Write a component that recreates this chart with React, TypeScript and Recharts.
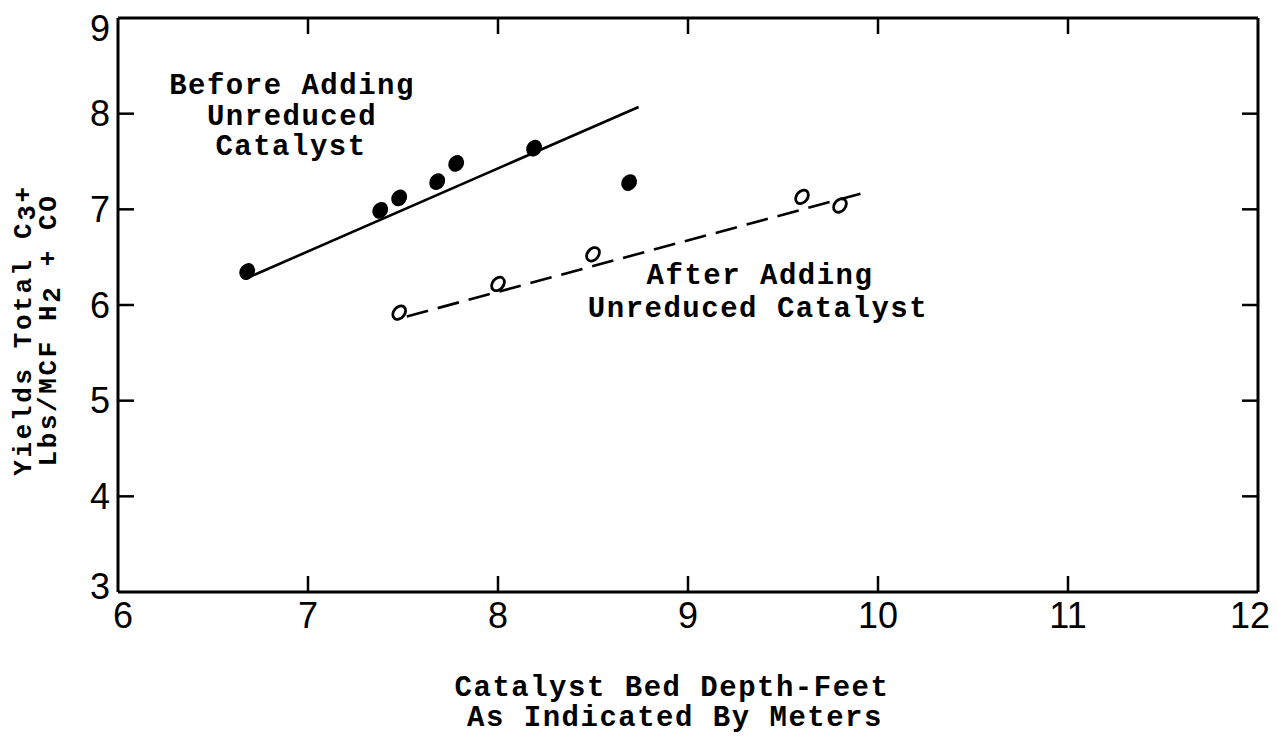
import React from "react";
import { ComposedChart, Scatter, XAxis, YAxis } from "recharts";

const xTicks = [6, 7, 8, 9, 10, 11, 12];
const yTicks = [3, 4, 5, 6, 7, 8, 9];

const beforeX = [6.68, 7.38, 7.48, 7.68, 7.78, 8.19, 8.69];
const beforeY = [6.35, 6.99, 7.12, 7.29, 7.48, 7.64, 7.28];
const afterX = [7.48, 8.0, 8.5, 9.6, 9.8];
const afterY = [5.92, 6.22, 6.53, 7.13, 7.04];
const fitBeforeX = [6.7, 8.74];
const fitBeforeY = [6.3, 8.07];
const fitAfterX = [7.52, 9.92];
const fitAfterY = [5.88, 7.17];

const zip = (xs: number[], ys: number[]) => xs.map((x, i) => ({ x, y: ys[i] }));
const beforeData = zip(beforeX, beforeY);
const afterData = zip(afterX, afterY);
const fitBefore = zip(fitBeforeX, fitBeforeY);
const fitAfter = zip(fitAfterX, fitAfterY);

const W = 1270;
const H = 728;
const M = { top: 9, left: 109, right: 19, bottom: 143 };
const TYPE = "'Liberation Mono', 'DejaVu Sans Mono', monospace";
const NUM = "'Liberation Sans', Arial, sans-serif";
const TL = 16;

const BottomTick = (p: any) => {
  const v = p.payload.value;
  const dx = v === 6 ? 5 : v === 12 ? -8 : 0;
  return (
    <g>
      {v !== 6 && v !== 12 && (
        <line x1={p.x} x2={p.x} y1={p.y} y2={p.y - TL} stroke="#000" strokeWidth={2.5} />
      )}
      <text x={p.x + dx} y={p.y + 23} textAnchor="middle" dominantBaseline="central" fontFamily={NUM} fontSize={36} fill="#000">
        {v}
      </text>
    </g>
  );
};

const TopTick = (p: any) => {
  const v = p.payload.value;
  if (v === 6 || v === 12) return <g />;
  return <line x1={p.x} x2={p.x} y1={p.y} y2={p.y + TL} stroke="#000" strokeWidth={2.5} />;
};

const LeftTick = (p: any) => {
  const v = p.payload.value;
  const dy = v === 3 ? -6 : v === 9 ? 10 : 0;
  return (
    <g>
      {v !== 3 && v !== 9 && (
        <line x1={p.x} x2={p.x + TL} y1={p.y} y2={p.y} stroke="#000" strokeWidth={2.5} />
      )}
      <text x={p.x - 8} y={p.y + dy} textAnchor="end" dominantBaseline="central" fontFamily={NUM} fontSize={36} fill="#000">
        {v}
      </text>
    </g>
  );
};

const RightTick = (p: any) => {
  const v = p.payload.value;
  if (v === 3 || v === 9) return <g />;
  return <line x1={p.x} x2={p.x - TL} y1={p.y} y2={p.y} stroke="#000" strokeWidth={2.5} />;
};

const FilledDot = (p: any) => (
  <ellipse cx={p.cx} cy={p.cy} rx={7.5} ry={8.8} fill="#000" transform={`rotate(35 ${p.cx} ${p.cy})`} />
);
const OpenDot = (p: any) => (
  <ellipse cx={p.cx} cy={p.cy} rx={5.5} ry={7.5} fill="#fff" stroke="#000" strokeWidth={2.8} transform={`rotate(40 ${p.cx} ${p.cy})`} />
);
const NoDot = () => <g />;

export default function App() {
  const axisLine = { stroke: "#000", strokeWidth: 3 };
  return (
    <div style={{ position: "relative", width: W, height: H, background: "#fff" }}>
      <ComposedChart width={W} height={H} margin={M}>
        <XAxis xAxisId="b" dataKey="x" type="number" domain={[6, 12]} ticks={xTicks} orientation="bottom" height={1} tickSize={0} tickMargin={0} axisLine={axisLine} tickLine={false} tick={BottomTick} interval={0} allowDataOverflow />
        <XAxis xAxisId="t" dataKey="x" type="number" domain={[6, 12]} ticks={xTicks} orientation="top" height={1} tickSize={0} tickMargin={0} axisLine={axisLine} tickLine={false} tick={TopTick} interval={0} allowDataOverflow />
        <YAxis yAxisId="l" dataKey="y" type="number" domain={[3, 9]} ticks={yTicks} orientation="left" width={1} tickSize={0} tickMargin={0} axisLine={axisLine} tickLine={false} tick={LeftTick} interval={0} allowDataOverflow />
        <YAxis yAxisId="r" dataKey="y" type="number" domain={[3, 9]} ticks={yTicks} orientation="right" width={1} tickSize={0} tickMargin={0} axisLine={axisLine} tickLine={false} tick={RightTick} interval={0} allowDataOverflow />
        <Scatter xAxisId="b" yAxisId="l" data={fitBefore} line={{ stroke: "#000", strokeWidth: 2.6 }} shape={NoDot} isAnimationActive={false} />
        <Scatter xAxisId="b" yAxisId="l" data={fitAfter} line={{ stroke: "#000", strokeWidth: 2.6, strokeDasharray: "22 10" }} shape={NoDot} isAnimationActive={false} />
        <Scatter xAxisId="b" yAxisId="l" data={beforeData} shape={FilledDot} isAnimationActive={false} />
        <Scatter xAxisId="b" yAxisId="l" data={afterData} shape={OpenDot} isAnimationActive={false} />
      </ComposedChart>
      <svg width={W} height={H} style={{ position: "absolute", left: 0, top: 0, pointerEvents: "none" }}>
        <g fontFamily={TYPE} fontWeight="bold" fontSize={29} fill="#000" textAnchor="middle" dominantBaseline="central" letterSpacing={1.5}>
          <text x={284} y={78}>Before Adding</text>
          <text x={284} y={109}>Unreduced</text>
          <text x={283} y={139}>Catalyst</text>
          <text x={752} y={268}>After Adding</text>
          <text x={750} y={301}>Unreduced Catalyst</text>
          <text x={664} y={680}>Catalyst Bed Depth-Feet</text>
          <text x={667} y={710}>As Indicated By Meters</text>
        </g>
        <g fontFamily={TYPE} fontWeight="bold" fontSize={26} fill="#000" textAnchor="middle" dominantBaseline="central" letterSpacing={2.6}>
          <text transform="translate(16 322) rotate(-90)">
            Yields Total C<tspan dy={4}>3</tspan><tspan dy={-4}>+</tspan>
          </text>
          <text transform="translate(41 322) rotate(-90)">
            Lbs/MCF H<tspan dy={4}>2</tspan><tspan dy={-4}> + CO</tspan>
          </text>
        </g>
      </svg>
    </div>
  );
}
